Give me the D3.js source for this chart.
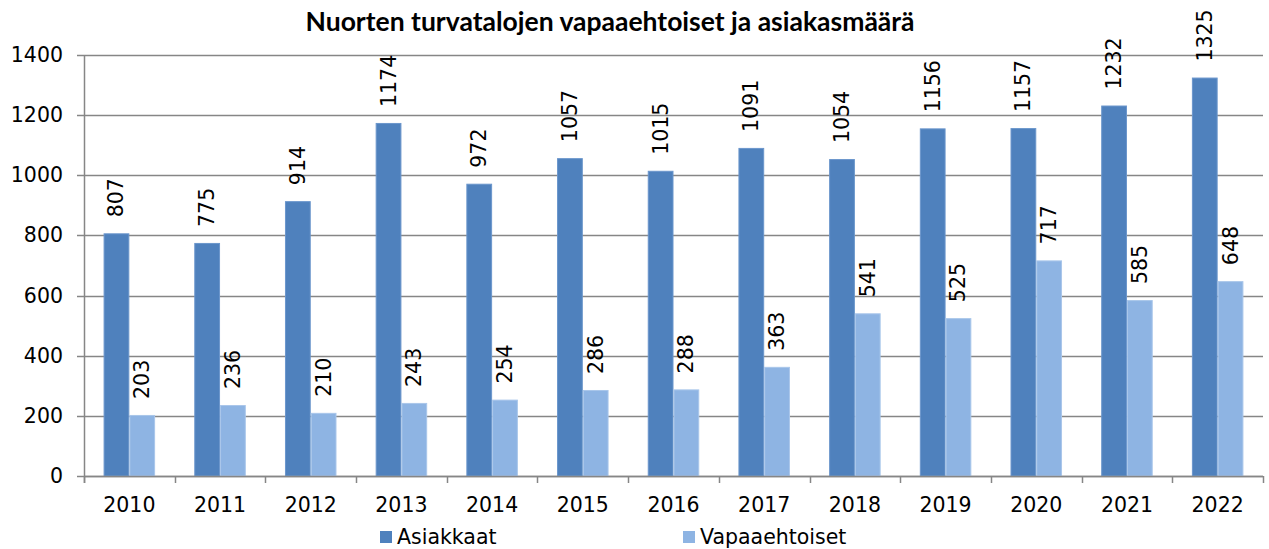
<!DOCTYPE html>
<html>
<head>
<meta charset="utf-8">
<script src="https://cdn.jsdelivr.net/npm/d3@7"></script>
<style>
  html, body { margin: 0; padding: 0; background: #fff; }
  svg { display: block; }
  text { font-family: "DejaVu Sans", Verdana, sans-serif; fill: #000; }
</style>
</head>
<body>
<svg id="chart" width="1269" height="549"></svg>
<script>
// Annual figures for youth shelters: clients and volunteers
const years = ["2010","2011","2012","2013","2014","2015","2016","2017","2018","2019","2020","2021","2022"];
const asiakkaat = [807, 775, 914, 1174, 972, 1057, 1015, 1091, 1054, 1156, 1157, 1232, 1325];
const vapaaehtoiset = [203, 236, 210, 243, 254, 286, 288, 363, 541, 525, 717, 585, 648];
const seriesNames = ["Asiakkaat", "Vapaaehtoiset"];
const yTicks = [0, 200, 400, 600, 800, 1000, 1200, 1400];
const title = "Nuorten turvatalojen vapaaehtoiset ja asiakasmäärä";

const colors = ["#4F81BD", "#8EB4E3"];
const strokes = ["#6B96CC", "#A9C6EA"];

const svg = d3.select("#chart");
const plot = { left: 84, right: 1263, top: 55, bottom: 476 };
const gridColor = "#868686";
const fontSize = "20.5px";

const y = d3.scaleLinear().domain([0, 1400]).range([plot.bottom, plot.top]);
const x0 = d3.scaleBand().domain(years).range([plot.left, plot.right])
  .paddingInner(0.432).paddingOuter(0.216);
const x1 = d3.scaleBand().domain(seriesNames).range([0, x0.bandwidth()]).padding(0);

const rows = years.map((yr, i) => ({ year: yr, values: [asiakkaat[i], vapaaehtoiset[i]] }));

// Title
svg.append("text")
  .attr("x", 610).attr("y", 31)
  .attr("text-anchor", "middle")
  .style("font-family", "Lato, 'Open Sans', sans-serif")
  .style("font-weight", "bold")
  .style("font-size", "26.5px")
  .text(title);

// Horizontal gridlines (with outward tick stubs on the left)
svg.append("g").selectAll("line").data(yTicks).join("line")
  .attr("x1", plot.left - 7).attr("x2", plot.right)
  .attr("y1", d => Math.round(y(d)) + 0.5).attr("y2", d => Math.round(y(d)) + 0.5)
  .attr("stroke", gridColor).attr("stroke-width", 1.5);

// Y axis labels
svg.append("g").selectAll("text").data(yTicks).join("text")
  .attr("x", 63).attr("y", d => y(d))
  .attr("text-anchor", "end")
  .attr("dominant-baseline", "central")
  .style("font-size", fontSize)
  .text(d => d);

// Bars
const groups = svg.append("g").selectAll("g").data(rows).join("g")
  .attr("transform", d => `translate(${x0(d.year)},0)`);

groups.selectAll("rect").data(d => d.values.map((v, k) => ({ v, k }))).join("rect")
  .attr("x", d => x1(seriesNames[d.k]) + 0.5)
  .attr("width", x1.bandwidth() - 1)
  .attr("y", d => y(d.v) + 0.5)
  .attr("height", d => y(0) - y(d.v) - 0.5)
  .attr("fill", d => colors[d.k])
  .attr("stroke", d => strokes[d.k])
  .attr("stroke-width", 1);

// Value labels, rotated, above each bar
groups.selectAll("text").data(d => d.values.map((v, k) => ({ v, k }))).join("text")
  .attr("transform", d => `translate(${x1(seriesNames[d.k]) + x1.bandwidth() / 2},${y(d.v) - 16}) rotate(-90)`)
  .attr("text-anchor", "start")
  .attr("dominant-baseline", "central")
  .style("font-size", fontSize)
  .text(d => d.v);

// Left axis line
svg.append("line")
  .attr("x1", plot.left + 0.5).attr("x2", plot.left + 0.5)
  .attr("y1", plot.top).attr("y2", plot.bottom + 7)
  .attr("stroke", gridColor).attr("stroke-width", 1.5);

// Bottom axis line and category separators
svg.append("line")
  .attr("x1", plot.left).attr("x2", plot.right)
  .attr("y1", Math.round(y(0)) + 0.5).attr("y2", Math.round(y(0)) + 0.5)
  .attr("stroke", gridColor).attr("stroke-width", 1.5);

const step = x0.step();
const sepX = d3.range(years.length + 1).map(i => plot.left + i * step);
svg.append("g").selectAll("line").data(sepX).join("line")
  .attr("x1", d => Math.round(d) + 0.5).attr("x2", d => Math.round(d) + 0.5)
  .attr("y1", plot.bottom).attr("y2", plot.bottom + 7)
  .attr("stroke", gridColor).attr("stroke-width", 1.5);

// Category labels
svg.append("g").selectAll("text").data(years).join("text")
  .attr("x", d => x0(d) + x0.bandwidth() / 2)
  .attr("y", 512)
  .attr("text-anchor", "middle")
  .style("font-size", fontSize)
  .text(d => d);

// Legend
const legendPos = [380, 683];
const legend = svg.append("g").selectAll("g").data(seriesNames).join("g")
  .attr("transform", (d, i) => `translate(${legendPos[i]},531)`);
legend.append("rect")
  .attr("width", 12).attr("height", 12)
  .attr("fill", (d, i) => colors[i]);
legend.append("text")
  .attr("x", 17).attr("y", 6)
  .attr("dominant-baseline", "central")
  .style("font-size", fontSize)
  .text(d => d);
</script>
</body>
</html>
